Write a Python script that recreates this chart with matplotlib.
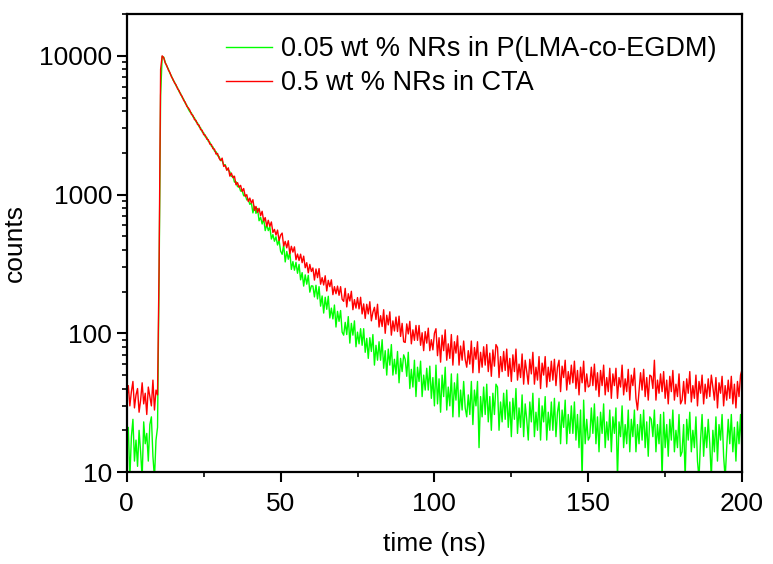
import numpy as np
import matplotlib
matplotlib.use("Agg")
import matplotlib.pyplot as plt
from matplotlib.ticker import FixedLocator, LogLocator, NullFormatter, FixedFormatter

plt.rcParams['font.family'] = ['Liberation Sans', 'DejaVu Sans']

# time axis: channels every 0.5 ns from 0 to 200 ns
t_start, t_stop, t_step = 0.0, 200.0, 0.5
time_ns = np.arange(t_start, t_stop + t_step / 2, t_step)

label_green = "0.05 wt % NRs in P(LMA-co-EGDM)"
label_red = "0.5 wt % NRs in CTA"

counts_red = [
    # 0 - 10 ns
    34, 42, 30, 38, 45, 29, 36, 40, 27, 33, 44, 31, 37, 26, 41, 35, 30, 46, 28, 39, 36,
    # 10.5 - 12
    300, 8000, 10000, 9700,
    # 12.5 - 20
    8880, 8530, 7920, 7610, 7080, 6810, 6390, 6200, 5790, 5630, 5260, 5110, 4770, 4640, 4330, 4220,
    # 20.5 - 30
    4060, 3790, 3730, 3470, 3430, 3200, 3170, 2940, 2910, 2700, 2690, 2510, 2490, 2310, 2300, 2140, 2130, 1960, 1980, 1830,
    # 30.5 - 40
    1760, 1832, 1595, 1629, 1497, 1560, 1359, 1430, 1325, 1358, 1177, 1220, 1128, 1166, 1055, 1106, 970, 999, 891, 944,
    # 40.5 - 50
    869, 919, 770, 821, 745, 796, 705, 758, 645, 683, 591, 653, 590, 635, 533, 561, 511, 555, 466, 510,
    # 50.5 - 60
    528, 426, 460, 413, 465, 374, 424, 385, 420, 339, 373, 335, 372, 323, 360, 297, 323, 273, 314, 279,
    # 60.5 - 70
    296, 242, 291, 252, 293, 226, 252, 223, 260, 202, 241, 217, 243, 190, 217, 193, 219, 188, 217, 176,
    # 70.5 - 80
    170, 211, 155, 193, 171, 201, 148, 175, 152, 181, 150, 182, 138, 163, 128, 162, 138, 169, 123, 142,
    # 80.5 - 90
    154, 126, 162, 111, 134, 112, 148, 100, 135, 115, 143, 97, 123, 104, 131, 103, 133, 95, 118, 87,
    # 90.5 - 100
    86, 117, 99, 122, 84, 106, 89, 114, 89, 114, 82, 101, 75, 103, 85, 109, 75, 90, 76, 100,
    # 100.5 - 110
    108, 69, 93, 62, 97, 75, 106, 64, 84, 66, 98, 59, 87, 72, 96, 59, 81, 64, 88, 65,
    # 110.5 - 120
    57, 75, 60, 88, 52, 79, 65, 87, 52, 73, 57, 80, 59, 83, 53, 72, 49, 76, 58, 83,
    # 120.5 - 130
    79, 48, 68, 53, 74, 54, 77, 49, 66, 45, 70, 53, 77, 46, 60, 48, 71, 43, 64, 53,
    # 130.5 - 140
    43, 65, 51, 73, 43, 57, 46, 68, 40, 61, 50, 68, 41, 57, 45, 63, 46, 65, 42, 57,
    # 140.5 - 150
    64, 38, 58, 48, 64, 39, 53, 43, 59, 44, 63, 40, 54, 36, 57, 44, 63, 38, 51, 41,
    # 150.5 - 160
    42, 57, 42, 60, 39, 52, 35, 54, 42, 59, 36, 48, 38, 56, 34, 51, 42, 56, 34, 48,
    # 160.5 - 170
    41, 59, 36, 47, 38, 55, 33, 50, 42, 56, 34, 28, 38, 52, 39, 55, 35, 48, 33, 50,
    # 170.5 - 180
    49, 40, 64, 33, 46, 37, 51, 38, 53, 34, 46, 31, 49, 38, 54, 33, 43, 35, 51, 31,
    # 180.5 - 190
    33, 45, 31, 47, 37, 53, 32, 42, 34, 50, 30, 45, 37, 50, 31, 43, 34, 47, 35, 50,
    # 190.5 - 200
    41, 33, 48, 29, 44, 37, 49, 30, 42, 33, 46, 34, 49, 31, 43, 29, 45, 35, 50, 55,
]

counts_green = [
    # 0 - 10 ns
    15, 21, 9, 18, 24, 12, 17, 11, 20, 14, 9, 23, 16, 19, 12, 22, 25, 13, 9, 17, 21,
    # 10.5 - 12
    250, 5200, 9900, 9800,
    # 12.5 - 20
    9010, 8390, 8070, 7490, 7200, 6700, 6490, 6090, 5900, 5510, 5360, 5010, 4870, 4550, 4420, 4130,
    # 20.5 - 30
    3950, 3890, 3640, 3580, 3350, 3290, 3080, 3030, 2830, 2790, 2610, 2590, 2420, 2390, 2230, 2210, 2060, 2040, 1910, 1880,
    # 30.5 - 33
    1760, 1760, 1640, 1640, 1520, 1510,
    # 33.5 - 40
    1460, 1350, 1360, 1230, 1240, 1140, 1150, 1060, 1070, 980, 995, 915, 925, 850,
    # 40.5 - 50
    871, 738, 824, 732, 794, 648, 686, 614, 673, 550, 608, 550, 586, 478, 515, 461, 497, 433, 470, 391,
    # 50.5 - 60
    371, 435, 327, 389, 342, 384, 289, 329, 285, 325, 271, 314, 243, 274, 219, 264, 226, 262, 198, 220,
    # 60.5 - 70
    219, 183, 222, 177, 217, 157, 186, 140, 182, 149, 185, 129, 152, 127, 160, 111, 144, 122, 146, 102,
    # 70.5 - 80
    97, 120, 98, 132, 85, 118, 97, 123, 80, 102, 84, 108, 82, 108, 73, 92, 66, 93, 74, 98,
    # 80.5 - 90
    59, 82, 64, 87, 64, 90, 56, 75, 50, 77, 59, 83, 50, 65, 51, 74, 44, 66, 53, 70,
    # 90.5 - 100
    65, 49, 73, 40, 55, 41, 64, 35, 57, 45, 63, 35, 50, 39, 56, 39, 58, 34, 48, 30,
    # 100.5 - 110
    59, 31, 47, 27, 50, 35, 57, 28, 41, 30, 51, 25, 44, 33, 51, 25, 39, 28, 45, 29,
    # 110.5 - 120
    25, 36, 26, 45, 22, 39, 30, 45, 15, 35, 25, 41, 26, 43, 23, 35, 20, 37, 26, 43,
    # 120.5 - 130
    41, 20, 32, 23, 37, 24, 39, 21, 32, 18, 34, 24, 40, 19, 29, 21, 36, 18, 31, 24,
    # 130.5 - 140
    17, 32, 23, 37, 18, 27, 20, 34, 17, 30, 23, 35, 17, 27, 20, 32, 20, 34, 18, 27,
    # 140.5 - 150
    32, 16, 28, 21, 33, 16, 26, 19, 30, 19, 32, 17, 26, 15, 28, 9, 33, 16, 24, 17,
    # 150.5 - 160
    18, 29, 19, 31, 16, 25, 14, 27, 19, 31, 15, 23, 17, 28, 14, 25, 19, 29, 9, 23,
    # 160.5 - 170
    18, 30, 15, 22, 16, 28, 14, 24, 18, 28, 14, 22, 16, 26, 17, 28, 15, 23, 13, 25,
    # 170.5 - 180
    24, 18, 28, 14, 22, 16, 26, 9, 27, 15, 22, 13, 24, 17, 28, 14, 20, 15, 26, 13,
    # 180.5 - 190
    14, 22, 9, 24, 17, 27, 14, 20, 15, 25, 12, 9, 17, 26, 13, 21, 15, 24, 16, 9,
    # 190.5 - 200
    20, 14, 25, 12, 22, 17, 26, 13, 9, 15, 24, 16, 26, 14, 21, 12, 23, 16, 26, 13,
]

x_ticks = [0, 50, 100, 150, 200]
x_minor = [25, 75, 125, 175]
y_ticks = [10, 100, 1000, 10000]
y_ticklabels = ["10", "100", "1000", "10000"]

fig = plt.figure(figsize=(7.73, 5.64), dpi=100)
ax = fig.add_axes([0.164, 0.163, 0.796, 0.812])

ax.plot(time_ns, counts_green, color="#00ff00", lw=1.0, label=label_green)
ax.plot(time_ns, counts_red, color="#ff0000", lw=1.0, label=label_red)

ax.set_yscale("log")
ax.set_xlim(0, 200)
ax.set_ylim(10, 20000)

ax.xaxis.set_major_locator(FixedLocator(x_ticks))
ax.xaxis.set_minor_locator(FixedLocator(x_minor))
ax.yaxis.set_major_locator(FixedLocator(y_ticks))
ax.yaxis.set_major_formatter(FixedFormatter(y_ticklabels))
ax.yaxis.set_minor_locator(LogLocator(base=10, subs=np.arange(2, 10)))
ax.yaxis.set_minor_formatter(NullFormatter())

fs = 19
ax.tick_params(which="major", direction="out", length=7, width=1.5, labelsize=fs,
               top=False, right=False)
ax.tick_params(which="minor", direction="out", length=3.5, width=1.2,
               top=False, right=False)
ax.tick_params(axis="x", which="major", pad=7)
for s in ax.spines.values():
    s.set_linewidth(1.6)

ax.set_xlabel("time (ns)", fontsize=fs, labelpad=12)
ax.set_ylabel("counts", fontsize=fs, labelpad=9)

leg = ax.legend(loc="upper left", bbox_to_anchor=(0.131, 0.993), frameon=False,
                fontsize=19.5, handlelength=1.7, handletextpad=0.3,
                labelspacing=0.3, borderaxespad=0.3)

fig.savefig("out.png", dpi=100)
